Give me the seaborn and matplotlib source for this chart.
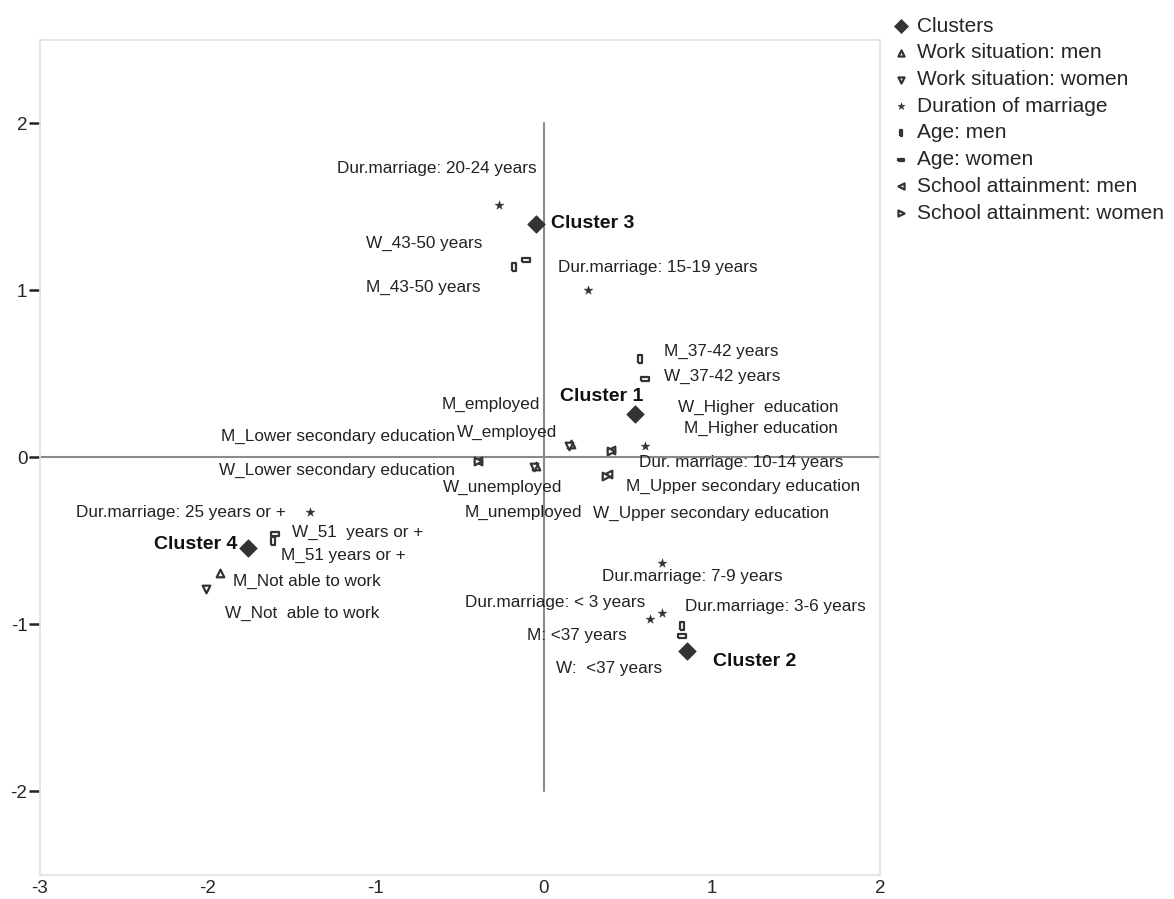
import pandas as pd
import seaborn as sns
import matplotlib.pyplot as plt

# data (dimension 1 / dimension 2)
cluster_names = ['Cluster 1', 'Cluster 2', 'Cluster 3', 'Cluster 4']
cluster_x = [0.54, 0.85, -0.05, -1.76]
cluster_y = [0.26, -1.16, 1.40, -0.54]

work_men_names = ['M_employed', 'M_unemployed', 'M_Not able to work']
work_men_x = [0.16, -0.05, -1.93]
work_men_y = [0.08, -0.05, -0.69]

work_women_names = ['W_employed', 'W_unemployed', 'W_Not  able to work']
work_women_x = [0.15, -0.06, -2.01]
work_women_y = [0.07, -0.06, -0.79]

dur_names = ['Dur.marriage: 20-24 years', 'Dur.marriage: 15-19 years',
             'Dur. marriage: 10-14 years', 'Dur.marriage: 25 years or +',
             'Dur.marriage: 7-9 years', 'Dur.marriage: < 3 years',
             'Dur.marriage: 3-6 years']
dur_x = [-0.27, 0.26, 0.60, -1.39, 0.70, 0.63, 0.70]
dur_y = [1.51, 1.00, 0.07, -0.33, -0.63, -0.97, -0.93]

age_men_names = ['M_43-50 years', 'M_37-42 years', 'M_51 years or +', 'M: <37 years']
age_men_x = [-0.18, 0.57, -1.61, 0.82]
age_men_y = [1.14, 0.59, -0.50, -1.01]

age_women_names = ['W_43-50 years', 'W_37-42 years', 'W_51  years or +', 'W:  <37 years']
age_women_x = [-0.11, 0.60, -1.60, 0.82]
age_women_y = [1.18, 0.47, -0.46, -1.07]

school_men_names = ['M_Lower secondary education', 'M_Upper secondary education',
                    'M_Higher education']
school_men_x = [-0.39, 0.38, 0.40]
school_men_y = [-0.02, -0.10, 0.045]

school_women_names = ['W_Lower secondary education', 'W_Upper secondary education',
                      'W_Higher  education']
school_women_x = [-0.39, 0.37, 0.40]
school_women_y = [-0.02, -0.11, 0.04]

# label offsets (pixels) from each point, same order as above
cluster_off = [(-33, 17), (68, -10), (57, 0), (-53, 3)]
work_men_off = [(-80, 40), (-12, -47), (87, -9)]
work_women_off = [(-62, 13), (-31, -20), (96, -24)]
dur_off = [(-62, 37), (70, 23), (96, -17), (-129, 0), (31, -14), (-95, 17), (114, 6)]
age_men_off = [(-90, -20), (81, 7), (70, -15), (-105, -10)]
age_women_off = [(-101, 17), (77, 2), (83, 2), (-73, -33)]
school_men_off = [(-140, 24), (135, -12), (150, 21)]
school_women_off = [(-141, -10), (105, -38), (147, 43)]

tall_rect = [(-0.45, -1), (0.45, -1), (0.45, 1), (-0.45, 1), (-0.45, -1)]
wide_rect = [(-1, -0.45), (1, -0.45), (1, 0.45), (-1, 0.45), (-1, -0.45)]

groups = [
    ('Clusters', cluster_names, cluster_x, cluster_y, cluster_off, 'D'),
    ('Work situation: men', work_men_names, work_men_x, work_men_y, work_men_off, '^'),
    ('Work situation: women', work_women_names, work_women_x, work_women_y, work_women_off, 'v'),
    ('Duration of marriage', dur_names, dur_x, dur_y, dur_off, '*'),
    ('Age: men', age_men_names, age_men_x, age_men_y, age_men_off, tall_rect),
    ('Age: women', age_women_names, age_women_x, age_women_y, age_women_off, wide_rect),
    ('School attainment: men', school_men_names, school_men_x, school_men_y, school_men_off, '<'),
    ('School attainment: women', school_women_names, school_women_x, school_women_y, school_women_off, '>'),
]

sns.set_style('white')
plt.rcParams['font.family'] = ['Liberation Sans', 'DejaVu Sans']
plt.rcParams['axes.unicode_minus'] = False

fig = plt.figure(figsize=(11.74, 8.99), dpi=100)
ax = fig.add_axes([0.034, 0.027, 0.7156, 0.9285])

# reference axes
ax.plot([-3, 2], [0, 0], color='#8a8a8a', lw=1.5, zorder=1)
ax.plot([0, 0], [-2, 2], color='#8a8a8a', lw=1.5, zorder=1)

dark = '#333333'
for name, labels, xs, ys, offs, marker in groups:
    df = pd.DataFrame({'x': xs, 'y': ys})
    if name == 'Clusters':
        sns.scatterplot(data=df, x='x', y='y', marker=marker, s=80, color=dark,
                        edgecolor=dark, linewidth=0.5, label=name, ax=ax, zorder=3)
    elif marker == '*':
        sns.scatterplot(data=df, x='x', y='y', marker=marker, s=45, color=dark,
                        edgecolor=dark, linewidth=0.3, label=name, ax=ax, zorder=3)
    else:
        sns.scatterplot(data=df, x='x', y='y', marker=marker, s=30, color='white',
                        edgecolor=dark, linewidth=1.6, label=name, ax=ax, zorder=3)
    for lab, px, py, off in zip(labels, xs, ys, offs):
        bold = lab.startswith('Cluster')
        ax.annotate(lab, xy=(px, py), xytext=off, textcoords='offset pixels',
                    ha='center', va='center',
                    fontsize=14 if bold else 12.3,
                    fontweight='bold' if bold else 'normal',
                    color='#111111' if bold else '#222222')

ax.set_xlim(-3, 2)
ax.set_ylim(-2.5, 2.5)
ax.set_xticks([-3, -2, -1, 0, 1, 2])
ax.set_yticks([-2, -1, 0, 1, 2])
ax.set_xlabel('')
ax.set_ylabel('')
ax.tick_params(axis='y', length=8, width=1.8, color='#222222', labelsize=13.5, pad=1)
ax.tick_params(axis='x', length=0, labelsize=13.5, pad=4)
ax.tick_params(left=True, bottom=False)
for s in ax.spines.values():
    s.set_color('#e2e2e2')
    s.set_linewidth(1.2)

h, l = ax.get_legend_handles_labels()
ax.get_legend().remove()
fig.legend(h, l, loc='upper left', bbox_to_anchor=(0.760, 0.9815), frameon=False,
           fontsize=15, handletextpad=0.4, labelspacing=0.37, markerscale=0.8,
           handlelength=0.8, borderaxespad=0, borderpad=0)

fig.savefig('out.png', dpi=100)
